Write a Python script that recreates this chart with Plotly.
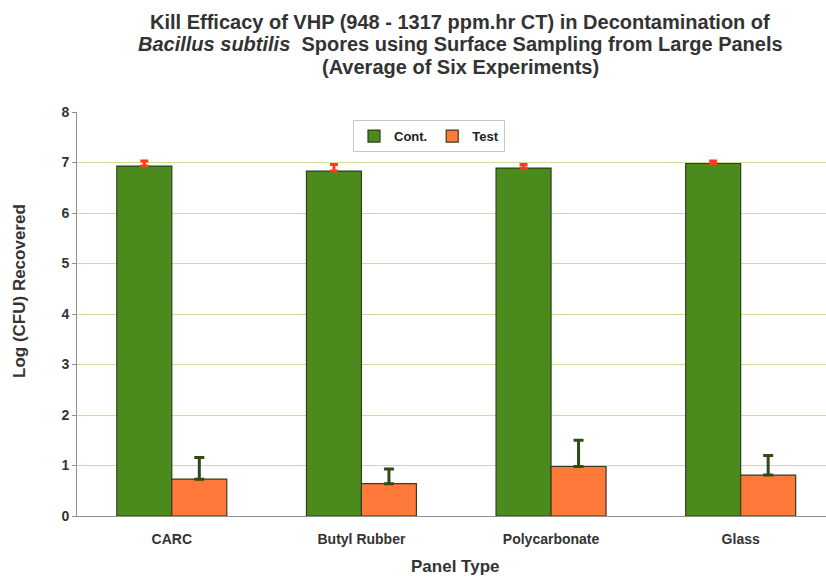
import plotly.graph_objects as go

categories = ["CARC", "Butyl Rubber", "Polycarbonate", "Glass"]
cont_values = [6.93, 6.83, 6.89, 6.98]
cont_errors = [0.10, 0.13, 0.07, 0.05]
test_values = [0.73, 0.64, 0.98, 0.81]
test_errors = [0.43, 0.29, 0.52, 0.39]
y_ticks = [0, 1, 2, 3, 4, 5, 6, 7, 8]
title_lines = [
    "<b>Kill Efficacy of VHP (948 - 1317 ppm.hr CT) in Decontamination of</b>",
    "<b><i>Bacillus subtilis</i>  Spores using Surface Sampling from Large Panels</b>",
    "<b>(Average of Six Experiments)</b>",
]

FONT = "Liberation Sans, Arial, sans-serif"
TXT = "#333333"

fig = go.Figure()
fig.add_trace(go.Bar(
    name="<b>Cont.</b>", x=categories, y=cont_values,
    marker=dict(color="#4b8a1d", line=dict(color="#2f3f1f", width=1.2)),
    error_y=dict(type="data", array=cont_errors, arrayminus=[0]*4, symmetric=False,
                 color="#ff3b1f", thickness=3, width=4),
))
fig.add_trace(go.Bar(
    name="<b>Test</b>", x=categories, y=test_values,
    marker=dict(color="#ff7a3a", line=dict(color="#3a3a1f", width=1.2)),
    error_y=dict(type="data", array=test_errors, arrayminus=[0]*4, symmetric=False,
                 color="#2f4a14", thickness=3, width=5),
))

annotations = []
for yy, line in zip([1.2228, 1.1683, 1.1114], title_lines):
    annotations.append(dict(text=line, xref="paper", yref="paper", x=0.5114, y=yy,
                            xanchor="center", yanchor="middle", showarrow=False,
                            font=dict(size=20, family=FONT, color=TXT)))
annotations.append(dict(text="<b>Log (CFU) Recovered</b>", xref="paper", yref="paper",
                        x=-0.0761, y=0.557, textangle=-90, xanchor="center", yanchor="middle",
                        showarrow=False, font=dict(size=17, family=FONT, color=TXT)))
annotations.append(dict(text="<b>Panel Type</b>", xref="paper", yref="paper",
                        x=0.5047, y=-0.1238, xanchor="center", yanchor="middle",
                        showarrow=False, font=dict(size=17, family=FONT, color=TXT)))

fig.update_layout(
    width=826, height=577,
    paper_bgcolor="white", plot_bgcolor="white",
    margin=dict(l=77, r=0, t=112, b=61),
    barmode="group", bargap=0.42, bargroupgap=0,
    font=dict(family=FONT, color=TXT),
    annotations=annotations,
    legend=dict(
        orientation="h", x=0.3685, y=0.980, xanchor="left", yanchor="top",
        bordercolor="#c8c8c8", borderwidth=1, bgcolor="white",
        font=dict(size=13, family=FONT, color="#222222"),
        itemwidth=30, tracegroupgap=0,
    ),
    xaxis=dict(
        range=[-0.5, 3.45],
        showline=True, linecolor="#909090", linewidth=1,
        tickfont=dict(size=14, family=FONT, color=TXT),
        ticklabelstandoff=10,
        tickprefix="<b>", ticksuffix="</b>",
    ),
    yaxis=dict(
        range=[0, 8], tickvals=y_ticks, ticktext=[f"<b>{v}</b>" for v in y_ticks],
        showgrid=True, gridcolor="#d2dc94", gridwidth=1,
        showline=True, linecolor="#909090", linewidth=1,
        ticks="outside", ticklen=4, tickcolor="#909090",
        tickfont=dict(size=14, family=FONT, color=TXT),
        zeroline=False,
    ),
)

fig.write_html("out.html", config={"displayModeBar": False},
               post_script="document.body.style.margin='0';")
